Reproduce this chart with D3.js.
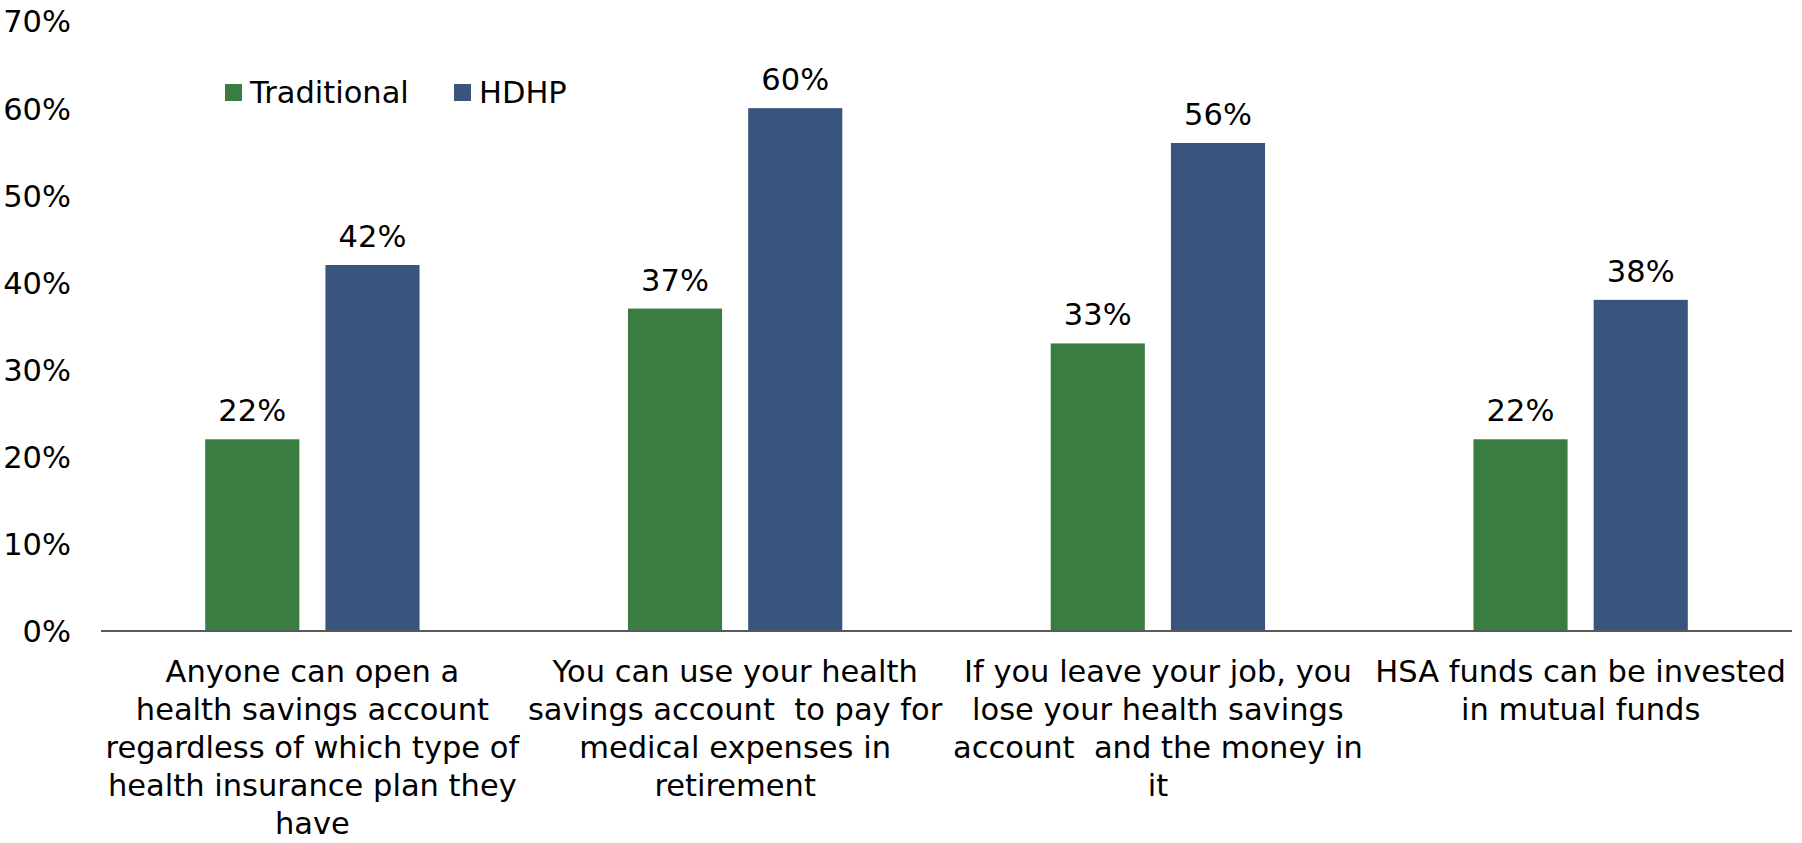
<!DOCTYPE html>
<html>
<head>
<meta charset="utf-8">
<script src="https://cdn.jsdelivr.net/npm/d3@7"></script>
<style>
  html, body { margin: 0; padding: 0; background: #fff; }
  svg { display: block; }
  text { font-family: "DejaVu Sans", sans-serif; fill: #000; }
</style>
</head>
<body>
<svg id="chart" width="1802" height="843"></svg>
<script>
// Survey answers by plan type (share answering correctly)
const categories = [
  "Anyone can open a\nhealth savings account\nregardless of which type of\nhealth insurance plan they\nhave",
  "You can use your health\nsavings account  to pay for\nmedical expenses in\nretirement",
  "If you leave your job, you\nlose your health savings\naccount  and the money in\nit",
  "HSA funds can be invested\nin mutual funds"
];
const seriesNames = ["Traditional", "HDHP"];
const traditional = [0.22, 0.37, 0.33, 0.22];
const hdhp = [0.42, 0.60, 0.56, 0.38];
const yTicks = [0, 0.1, 0.2, 0.3, 0.4, 0.5, 0.6, 0.7];
const colors = ["#3a7d40", "#39557e"];

const values = [traditional, hdhp];
const rows = categories.map((c, i) => ({ cat: c, vals: values.map(v => v[i]) }));

const svg = d3.select("#chart");
const plot = { left: 101, right: 1792, top: 21, bottom: 631 };
const fontSize = 30.5;

const x0 = d3.scaleBand().domain(categories).range([plot.left, plot.right])
  .paddingInner(0.493).paddingOuter(0.2465);
const x1 = d3.scaleBand().domain(seriesNames).range([0, x0.bandwidth()])
  .paddingInner(0.217).paddingOuter(0);
const y = d3.scaleLinear().domain([0, 0.7]).range([plot.bottom, plot.top]);
const pct = d3.format(".0%");

// Y axis labels (no axis line, no ticks)
const yAxis = d3.axisLeft(y).tickValues(yTicks).tickFormat(pct).tickSize(0).tickPadding(0);
const gy = svg.append("g").attr("transform", "translate(71,0)").call(yAxis);
gy.select(".domain").remove();
gy.selectAll("text").attr("font-size", fontSize).attr("font-family", "DejaVu Sans, sans-serif")
  .attr("fill", "#000").attr("dy", "0.36em");

// Bars
const groups = svg.append("g").selectAll("g").data(rows).join("g")
  .attr("transform", d => `translate(${x0(d.cat)},0)`);
groups.selectAll("rect").data(d => d.vals.map((v, k) => ({ key: seriesNames[k], v, k })))
  .join("rect")
  .attr("x", d => x1(d.key))
  .attr("y", d => y(d.v))
  .attr("width", x1.bandwidth())
  .attr("height", d => plot.bottom - y(d.v))
  .attr("fill", d => colors[d.k]);

// Value labels
groups.selectAll("text.val").data(d => d.vals.map((v, k) => ({ key: seriesNames[k], v, k })))
  .join("text").attr("class", "val")
  .attr("x", d => x1(d.key) + x1.bandwidth() / 2)
  .attr("y", d => y(d.v) - 18)
  .attr("text-anchor", "middle")
  .attr("font-size", fontSize)
  .text(d => pct(d.v));

// X axis baseline
const xAxis = d3.axisBottom(x0).tickSize(0).tickFormat("");
const gx = svg.append("g").attr("transform", `translate(0,${plot.bottom})`).call(xAxis);
gx.select(".domain").attr("stroke", "#595959").attr("stroke-width", 2)
  .attr("d", `M${plot.left},0H${plot.right}`);

// Category labels, wrapped over several lines
const lineH = 38;
gx.selectAll(".tick").each(function (d) {
  const t = d3.select(this).append("text")
    .attr("text-anchor", "middle")
    .attr("font-size", fontSize)
    .attr("fill", "#000")
    .style("white-space", "pre");
  d.split("\n").forEach((line, i) => {
    t.append("tspan").attr("x", 0).attr("y", 51 + i * lineH).text(line);
  });
});

// Legend
const legend = svg.append("g").selectAll("g").data(seriesNames).join("g")
  .attr("transform", (d, i) => `translate(${[225, 454][i]},84)`);
legend.append("rect").attr("width", 17).attr("height", 17).attr("fill", (d, i) => colors[i]);
legend.append("text").attr("x", 25).attr("y", 19).attr("font-size", fontSize).text(d => d);
</script>
</body>
</html>
